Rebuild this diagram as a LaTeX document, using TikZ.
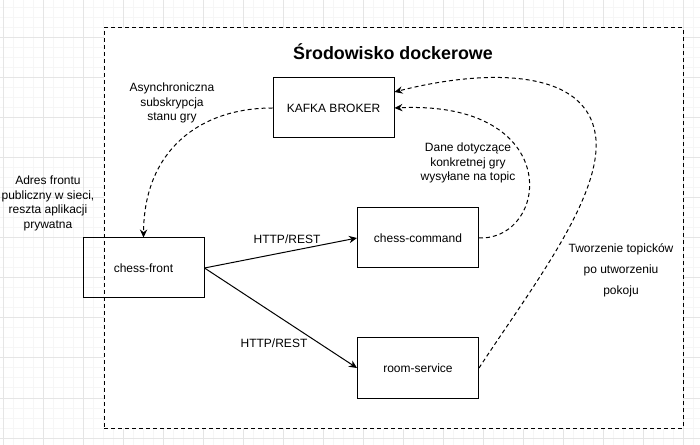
\documentclass[tikz,border=0pt]{standalone}
\usepackage{fontspec}
\setmainfont{Liberation Sans}
\usetikzlibrary{arrows.meta}
\definecolor{gridlight}{RGB}{246,246,246}
\definecolor{griddark}{RGB}{229,229,229}

\begin{document}
\begin{tikzpicture}[x=0.75pt,y=-0.75pt,
  box/.style={draw,line width=0.75pt,minimum width=90.75pt,minimum height=45pt,inner sep=0pt,font=\fontsize{9}{10.9}\selectfont},
  note/.style={align=center,inner sep=0pt,font=\fontsize{9}{10.9}\selectfont},
  link/.style={line width=0.75pt,-{Stealth[length=6pt,width=5.5pt,inset=2pt]}},
  async/.style={link,dash pattern=on 3pt off 2.25pt}]
\useasboundingbox (0,0) rectangle (700,445);
\foreach \x in {3,13,...,693} \draw[gridlight,line width=0.75pt] (\x,0) -- (\x,445);
\foreach \y in {8,18,...,438} \draw[gridlight,line width=0.75pt] (0,\y) -- (700,\y);
\foreach \x in {3,43,...,683} \draw[griddark,line width=0.75pt] (\x,0) -- (\x,445);
\foreach \y in {38,78,...,438} \draw[griddark,line width=0.75pt] (0,\y) -- (700,\y);
\node [draw,fill=white,line width=0.75pt,dash pattern=on 3pt off 2.25pt,minimum width=434.25pt,minimum height=300pt] (docker) at (393.5,228) {};
\node [font=\fontsize{13.4}{16}\selectfont\bfseries] (title) at (393,52) {Środowisko dockerowe};
\node [box] (kafka) at (333.5,108) {KAFKA BROKER};
\node [box] (front) at (143.5,268) {chess-front};
\node [box] (command) at (418,238) {chess-command};
\node [box] (room) at (418,368) {room-service};
\node [note] (async) at (172,103) {Asynchroniczna\\subskrypcja\\stanu gry};
\node [note] (public) at (48,203.5) {Adres frontu\\publiczny w sieci,\\reszta aplikacji\\prywatna};
\node [note] (data) at (468,163) {Dane dotyczące\\konkretnej gry\\wysyłane na topic};
\node [note] (rest1) at (287,239) {HTTP/REST};
\node [note] (rest2) at (274,343) {HTTP/REST};
\node [note,font=\fontsize{9}{15.75}\selectfont] (topics) at (621,270) {Tworzenie topicków\\po utworzeniu\\pokoju};
\draw [link] (front.east) -- (command.west);
\draw [link] (front.east) -- (room.west);
\draw [async] (kafka.west) .. controls (200,108) and (144,150) .. (front.north);
\draw [async] (command.east) .. controls (550,240) and (565,100) .. (kafka.east);
\draw [async] (room.east) .. controls (530,290) and (600,200) .. (596,140) .. controls (590,65) and (480,70) .. ([yshift=12pt]kafka.east);
\end{tikzpicture}
\end{document}
